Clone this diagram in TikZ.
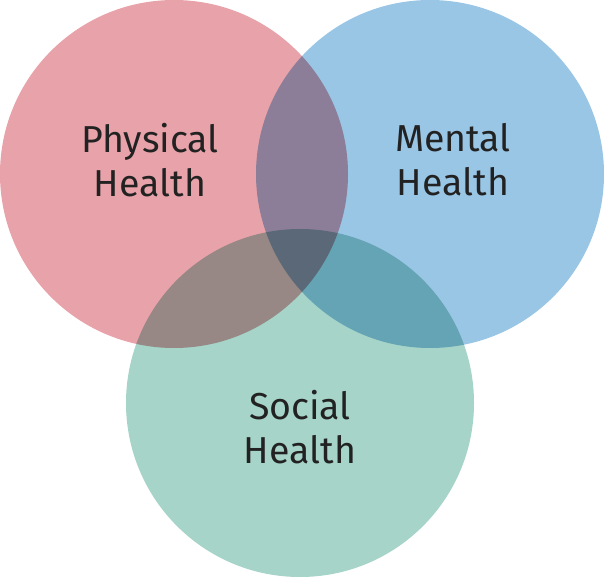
\documentclass[tikz,border=0pt]{standalone}
\usepackage{fontspec}
\setmainfont{Fira Sans}
\definecolor{physc}{HTML}{E8A3AA}
\definecolor{mentc}{HTML}{9AC6E6}
\definecolor{socc}{HTML}{A6D4C8}
\definecolor{txtc}{HTML}{222222}
\tikzset{
  venn/.style={circle, minimum size=348pt, inner sep=0pt, draw=none},
  lbl/.style={text=txtc, align=center, font=\fontsize{37.5}{44}\selectfont}
}
\begin{document}
\begin{tikzpicture}[x=1pt,y=-1pt]
\useasboundingbox (0,0) rectangle (604,577);
\begin{scope}[blend group=multiply]
\node[venn, fill=physc] (phys) at (174,174) {};
\node[venn, fill=mentc] (ment) at (430,174) {};
\node[venn, fill=socc] (soc) at (300,403) {};
\end{scope}
\node[lbl] (tphys) at (150,160) {Physical\\Health};
\node[lbl] (tment) at (453,160) {Mental\\Health};
\node[lbl] (tsoc) at (300,427) {Social\\Health};
\end{tikzpicture}
\end{document}
